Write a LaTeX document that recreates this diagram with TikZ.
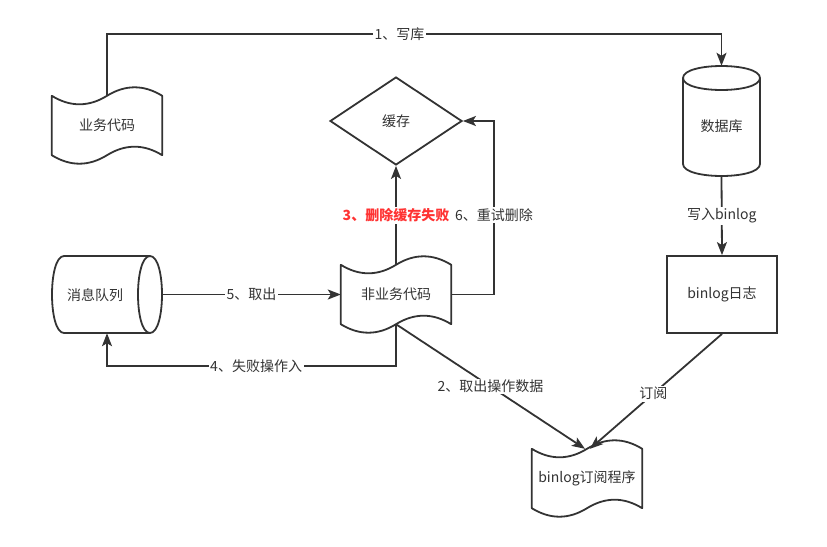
\documentclass[tikz,border=0pt]{standalone}
\usepackage{fontspec}
\setmainfont{Noto Sans CJK SC}
\usetikzlibrary{arrows.meta,shapes.geometric,calc}
\definecolor{ink}{HTML}{333333}
\definecolor{warn}{HTML}{FF3333}
\newcommand\tapeoutline[3]{% name, width, amplitude
  \draw[outline] (#1.north west)
    .. controls +({#2/6},{4*#3/3}) and +({-#2/6},{4*#3/3}) .. (#1.north)
    .. controls +({#2/6},{-4*#3/3}) and +({-#2/6},{-4*#3/3}) .. (#1.north east)
    -- (#1.south east)
    .. controls +({-#2/6},{-4*#3/3}) and +({#2/6},{-4*#3/3}) .. (#1.south)
    .. controls +({-#2/6},{4*#3/3}) and +({#2/6},{4*#3/3}) .. (#1.south west)
    -- cycle;}
\begin{document}
\begin{tikzpicture}[x=1pt,y=-1pt,
  outline/.style={draw=ink,line width=1.8pt,line join=round},
  box/.style={draw=none,inner sep=0pt,text=ink,font=\fontsize{14}{16}\selectfont},
  arr/.style={draw=ink,line width=1.8pt,-{Stealth[length=13pt,width=10pt,inset=3pt]}},
  lbl/.style={fill=white,inner sep=1.5pt,text=ink,font=\fontsize{14}{16}\selectfont},
  redlbl/.style={fill=white,inner sep=1.5pt,text=warn,font=\fontsize{14}{16}\selectfont\bfseries}]
\useasboundingbox (0,0) rectangle (827,546);
% nodes
\node[box,minimum width=110pt,minimum height=59pt] (biz) at (107,125.5) {业务代码};
\tapeoutline{biz}{110}{8.5}
\node[box,minimum width=110pt,minimum height=59pt] (nonbiz) at (396,294.5) {非业务代码};
\tapeoutline{nonbiz}{110}{8.5}
\node[box,minimum width=110pt,minimum height=59pt] (sub) at (587,478.5) {binlog订阅程序};
\tapeoutline{sub}{110}{8.5}
\node[draw=ink,line width=1.8pt,shape=diamond,minimum width=132pt,minimum height=88pt,aspect=1.5,inner sep=0pt,text=ink,font=\fontsize{14}{16}\selectfont] (cache) at (396,121) {缓存};
\node[draw=ink,line width=1.8pt,minimum width=110pt,minimum height=77pt,inner sep=0pt,text=ink,font=\fontsize{14}{16}\selectfont] (blog) at (722,294.5) {binlog日志};
% database cylinder
\node[box,minimum width=77pt,minimum height=110pt] (db) at (721.5,121) {};
\node[box] (dbtext) at (721.5,126) {数据库};
\draw[outline] (683,78) .. controls (683,62) and (760,62) .. (760,78)
  .. controls (760,94) and (683,94) .. (683,78) -- (683,164)
  .. controls (683,180) and (760,180) .. (760,164) -- (760,78);
% message queue (horizontal cylinder)
\node[box,minimum width=110pt,minimum height=77pt] (mq) at (107,294.5) {};
\node[box] (mqtext) at (95,295) {消息队列};
\draw[outline] (64,256) -- (150,256)
  .. controls (166,256) and (166,333) .. (150,333)
  .. controls (134,333) and (134,256) .. (150,256);
\draw[outline] (150,333) -- (64,333) .. controls (48,333) and (48,256) .. (64,256);
% connectors
\coordinate (toprow) at (0,34);
\coordinate (lowrow) at (0,366);
\coordinate (retryx) at (494,0);
\draw[arr] (biz.north) -- (biz.north |- toprow)
  -- node[lbl,pos=0.476] (l1) {1、写库} (db.north |- toprow) -- (db.north);
\draw[arr] (db.south) -- node[lbl] (lw) {写入binlog} (blog.north);
\draw[arr] (blog.south) -- node[lbl,pos=0.52] (ls) {订阅} ([xshift=3pt]sub.north);
\draw[arr] (nonbiz.south) -- node[lbl,pos=0.5] (l2) {2、取出操作数据} ([xshift=-2pt]sub.north);
\draw[arr] (nonbiz.north) -- node[redlbl] (l3) {3、删除缓存失败} (cache.south);
\draw[arr] (nonbiz.south) -- (nonbiz.south |- lowrow)
  -- node[lbl,pos=0.484] (l4) {4、失败操作入} (mq.south |- lowrow) -- (mq.south);
\draw[arr] (mq.east) -- node[lbl] (l5) {5、取出} (nonbiz.west);
\draw[arr] (nonbiz.east) -- (retryx |- nonbiz.east)
  -- node[lbl,pos=0.458] (l6) {6、重试删除} (retryx |- cache.east) -- (cache.east);
\end{tikzpicture}
\end{document}
